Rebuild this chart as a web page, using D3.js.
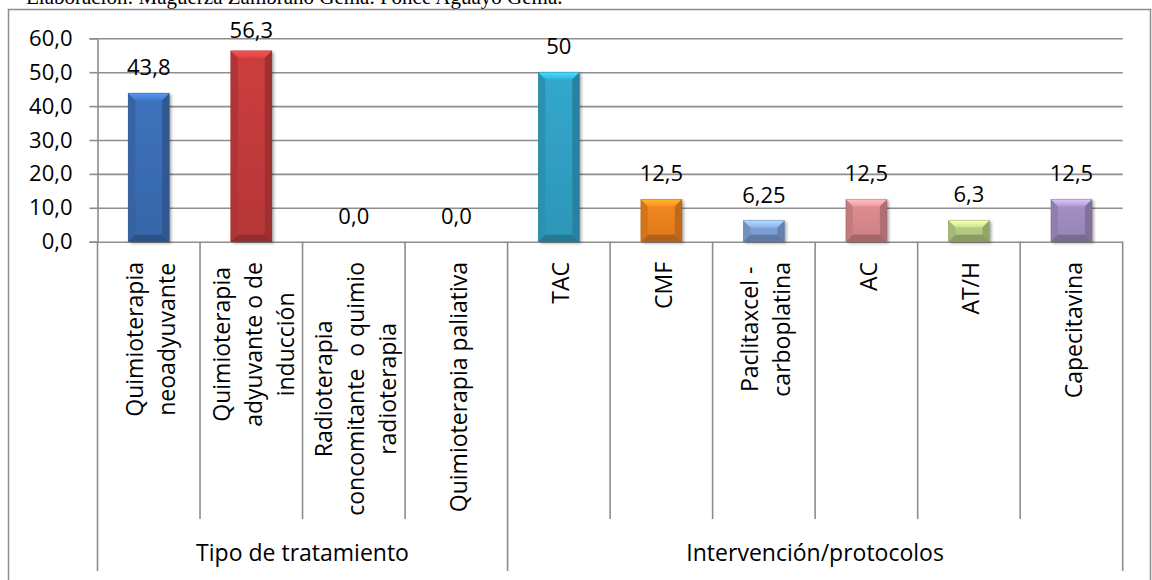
<!DOCTYPE html>
<html>
<head>
<meta charset="utf-8">
<script src="https://cdn.jsdelivr.net/npm/d3@7"></script>
<style>
  html, body { margin: 0; padding: 0; background: #ffffff; }
  svg { display: block; font-family: "Open Sans", "DejaVu Sans", sans-serif; }
</style>
</head>
<body>
<svg id="chart" width="1152" height="580"></svg>
<script>
// ---- data ----
const sourceNote = "Elaboración: Maguerza Zambrano Gema. Ponce Aguayo Gema.";
const groups = ["Tipo de tratamiento", "Intervención/protocolos"];
const groupOf = [0, 0, 0, 0, 1, 1, 1, 1, 1, 1];
const categories = [
  ["Quimioterapia", "neoadyuvante"],
  ["Quimioterapia", "adyuvante o de", "inducción"],
  ["Radioterapia", "concomitante  o quimio", "radioterapia"],
  ["Quimioterapia paliativa"],
  ["TAC"],
  ["CMF"],
  ["Paclitaxcel -", "carboplatina"],
  ["AC"],
  ["AT/H"],
  ["Capecitavina"]
];
const values = [43.8, 56.3, 0, 0, 50, 12.5, 6.25, 12.5, 6.3, 12.5];
const labelDecimals = [1, 1, 1, 1, 0, 1, 2, 1, 1, 1];
const barColors = ["#3a6cb2", "#c13a3b", "#888888", "#888888", "#2f9ec2",
                   "#e8801f", "#7c9dd2", "#d5878a", "#b2ca7f", "#9d8abd"];
const yTicks = [0, 10, 20, 30, 40, 50, 60];

// ---- layout ----
const W = 1152, H = 580;
const plot = { left: 97.5, right: 1122.7, top: 38.3, bottom: 241.7 };
const labelTop = 262;          // where rotated category labels start
const catTickEnd = 519;        // end of separators between categories
const groupTickEnd = 571;      // end of separators between groups
const lineGap = 32;            // spacing of wrapped label lines

const svg = d3.select("#chart");
const locale = d3.formatLocale({ decimal: ",", thousands: ".", grouping: [3], currency: ["", " €"] });

const x = d3.scaleBand().domain(d3.range(categories.length)).range([plot.left, plot.right]).paddingInner(0).paddingOuter(0);
const y = d3.scaleLinear().domain([0, 60]).range([plot.bottom, plot.top]);
const barW = x.bandwidth() * 0.4;
const gridColor = "#8d8d8d";

// source note, clipped by the top of the canvas
svg.append("text")
  .attr("x", 26).attr("y", 4)
  .style("font-family", "'Liberation Serif', 'Times New Roman', serif")
  .style("font-size", "21px")
  .attr("fill", "#000")
  .text(sourceNote);

// chart frame
svg.append("rect")
  .attr("x", 8.5).attr("y", 9.5)
  .attr("width", 1142).attr("height", 620)
  .attr("fill", "none").attr("stroke", gridColor).attr("stroke-width", 1.5);

// defs: gradients and shadow
const defs = svg.append("defs");
const shadow = defs.append("filter").attr("id", "barShadow")
  .attr("x", "-30%").attr("y", "-30%").attr("width", "160%").attr("height", "160%");
shadow.append("feDropShadow").attr("dx", 2).attr("dy", 1.5).attr("stdDeviation", 1.6)
  .attr("flood-color", "#000").attr("flood-opacity", 0.35);

barColors.forEach((c, i) => {
  const base = d3.color(c);
  const gBody = defs.append("linearGradient").attr("id", "body" + i)
    .attr("x1", 0).attr("y1", 0).attr("x2", 0).attr("y2", 1);
  gBody.append("stop").attr("offset", 0).attr("stop-color", base.brighter(0.15));
  gBody.append("stop").attr("offset", 1).attr("stop-color", base.darker(0.15));
  const gTop = defs.append("linearGradient").attr("id", "top" + i)
    .attr("x1", 0).attr("y1", 0).attr("x2", 0).attr("y2", 1);
  gTop.append("stop").attr("offset", 0).attr("stop-color", base.brighter(1.0));
  gTop.append("stop").attr("offset", 1).attr("stop-color", base.brighter(0.35));
});

// gridlines
svg.append("g")
  .attr("transform", `translate(${plot.left},0)`)
  .call(d3.axisLeft(y).tickValues(yTicks).tickSize(-(plot.right - plot.left)).tickFormat(""))
  .call(g => g.select(".domain").remove())
  .call(g => g.selectAll(".tick line").attr("stroke", gridColor).attr("stroke-width", 1.6));

// value axis with outer ticks and labels
svg.append("g")
  .attr("transform", `translate(${plot.left},0)`)
  .call(d3.axisLeft(y).tickValues(yTicks).tickSize(8).tickPadding(17).tickFormat(locale.format(".1f")))
  .call(g => g.select(".domain").attr("stroke", gridColor).attr("stroke-width", 1.6))
  .call(g => g.selectAll(".tick line").attr("stroke", gridColor).attr("stroke-width", 1.6))
  .call(g => g.selectAll(".tick text")
    .attr("fill", "#000")
    .style("font-family", "'Open Sans', sans-serif")
    .style("font-size", "22px"));

// category separators
const sep = svg.append("g").attr("stroke", gridColor).attr("stroke-width", 1.6);
const bounds = d3.range(categories.length + 1);
bounds.forEach(k => {
  const xx = k < categories.length ? x(k) : plot.right;
  const isGroupEdge = k === 0 || k === categories.length || groupOf[k] !== groupOf[k - 1];
  sep.append("line")
    .attr("x1", xx).attr("x2", xx)
    .attr("y1", plot.bottom).attr("y2", isGroupEdge ? groupTickEnd : catTickEnd);
});

// bars with bevelled edges
const barsG = svg.append("g");
values.forEach((v, i) => {
  if (v <= 0) return;
  const x0 = x(i) + (x.bandwidth() - barW) / 2, x1 = x0 + barW;
  const y0 = y(v), y1 = y(0);
  const b = Math.min(7, (y1 - y0) / 2, barW / 2);
  const base = d3.color(barColors[i]);
  const g = barsG.append("g");
  g.append("rect")
    .attr("x", x0).attr("y", y0).attr("width", barW).attr("height", y1 - y0)
    .attr("fill", `url(#body${i})`).attr("filter", "url(#barShadow)");
  const poly = (pts, fill) => g.append("polygon")
    .attr("points", pts.map(p => p.join(",")).join(" ")).attr("fill", fill);
  // left, right, bottom and top facets
  poly([[x0, y0], [x0 + b, y0 + b], [x0 + b, y1 - b], [x0, y1]], base.darker(0.25));
  poly([[x1, y0], [x1 - b, y0 + b], [x1 - b, y1 - b], [x1, y1]], base.darker(0.55));
  poly([[x0, y1], [x0 + b, y1 - b], [x1 - b, y1 - b], [x1, y1]], base.darker(0.75));
  poly([[x0, y0], [x1, y0], [x1 - b, y0 + b], [x0 + b, y0 + b]], `url(#top${i})`);
  g.append("rect")
    .attr("x", x0).attr("y", y0).attr("width", barW).attr("height", y1 - y0)
    .attr("fill", "none").attr("stroke", base.darker(0.9)).attr("stroke-opacity", 0.45).attr("stroke-width", 0.8);
});

// value labels
svg.append("g")
  .selectAll("text")
  .data(values)
  .join("text")
  .attr("x", (d, i) => x(i) + x.bandwidth() / 2)
  .attr("y", d => Math.max(y(d) - 18, plot.top))
  .attr("text-anchor", "middle")
  .attr("fill", "#000")
  .style("font-size", "22px")
  .text((d, i) => locale.format("." + labelDecimals[i] + "f")(d));

// rotated category labels (lines centred on each other, longest line starts at the top)
const catG = svg.append("g").style("font-size", "23px").attr("fill", "#000");
categories.forEach((lines, i) => {
  const cx = x(i) + x.bandwidth() / 2;
  const grp = catG.append("g");
  const texts = lines.map((ln, j) => grp.append("text")
    .style("white-space", "pre")
    .attr("text-anchor", "middle")
    .text(ln));
  const maxLen = d3.max(texts, t => t.node().getComputedTextLength());
  const midY = labelTop + maxLen / 2;
  texts.forEach((t, j) => {
    const off = (j - (lines.length - 1) / 2) * lineGap + 10.5;
    t.attr("transform", `translate(${cx + off},${midY}) rotate(-90)`);
  });
});

// group labels
svg.append("g")
  .selectAll("text")
  .data(groups)
  .join("text")
  .attr("x", (d, gi) => {
    const idx = d3.range(categories.length).filter(k => groupOf[k] === gi);
    const a = x(idx[0]), bEnd = x(idx[idx.length - 1]) + x.bandwidth();
    return (a + bEnd) / 2;
  })
  .attr("y", 561)
  .attr("text-anchor", "middle")
  .attr("fill", "#000")
  .style("font-size", "23px")
  .text(d => d);
</script>
</body>
</html>
